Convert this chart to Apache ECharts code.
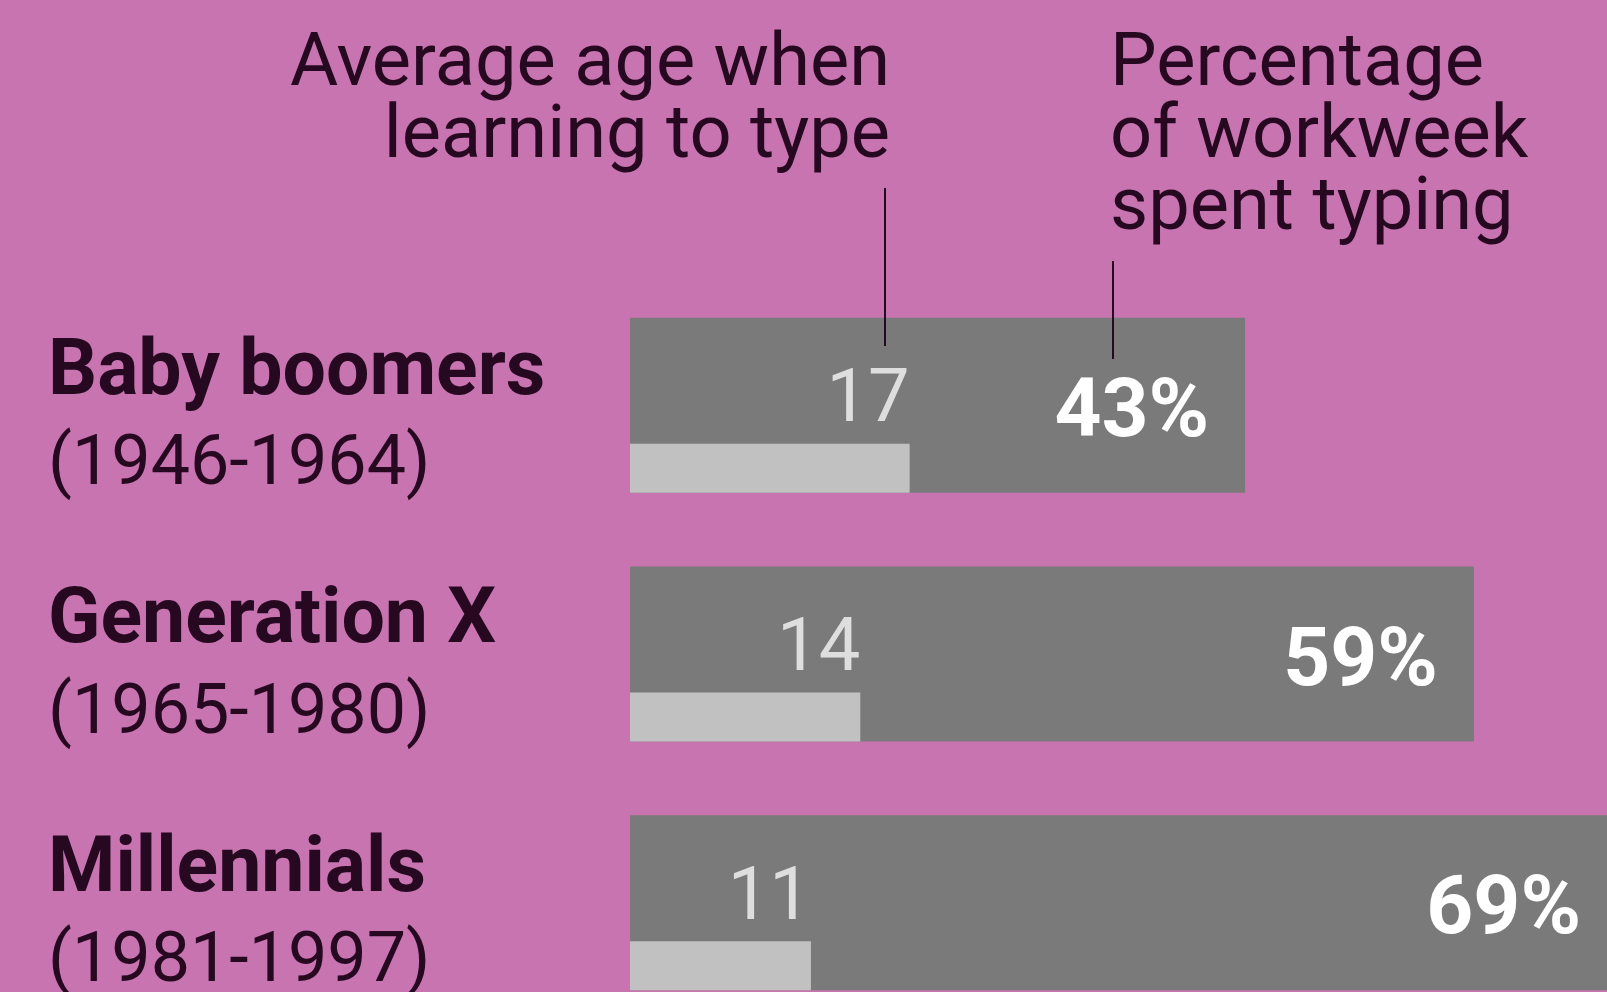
<!DOCTYPE html>
<html>
<head>
<meta charset="utf-8">
<script src="https://cdn.jsdelivr.net/npm/echarts@6/dist/echarts.min.js"></script>
<style>
  html, body { margin: 0; padding: 0; background: #c874b0; }
  #chart { width: 1607px; height: 992px; }
</style>
</head>
<body>
<div id="chart"></div>
<script>
// generations, top to bottom
const generations = ["Baby boomers", "Generation X", "Millennials"];
const birthYears = ["(1946-1964)", "(1965-1980)", "(1981-1997)"];
// share of the workweek spent typing (%)
const typingShare = [43, 59, 69];
// average age when learning to type
const learningAge = [17, 14, 11];

const FONT = "Roboto, 'DejaVu Sans', sans-serif";
const INK = "#260820";

const chart = echarts.init(document.getElementById("chart"));

const option = {
  backgroundColor: "#c874b0",
  animation: false,
  grid: { left: 630, right: -10, top: 281, height: 746, outerBoundsMode: "none" },
  xAxis: [
    { type: "value", min: 0, max: 69, show: false },
    { type: "value", min: 0, max: 60, show: false },
  ],
  yAxis: {
    type: "category",
    inverse: true,
    data: generations,
    axisLine: { show: false },
    axisTick: { show: false },
    splitLine: { show: false },
    axisLabel: {
      align: "left",
      margin: 582,
      padding: [30, 0, 0, 0],
      formatter: (val, i) => "{name|" + val + "}\n{years|" + birthYears[i] + "}",
      rich: {
        name: { fontFamily: FONT, fontWeight: "bold", fontSize: 77, color: INK, lineHeight: 92 },
        years: { fontFamily: FONT, fontWeight: "normal", fontSize: 70, color: INK, lineHeight: 92 },
      },
    },
  },
  series: [
    {
      // percentage of workweek, the wide dark bar
      type: "bar",
      xAxisIndex: 0,
      data: typingShare,
      barWidth: 175,
      barGap: "-28%",
      itemStyle: { color: "#7a7a7a" },
      label: {
        show: true,
        position: "insideRight",
        distance: 36,
        offset: [0, 10],
        formatter: "{c}%",
        fontFamily: FONT,
        fontWeight: "bold",
        fontSize: 82,
        color: "#ffffff",
      },
    },
    {
      // average age, the thin light bar along the bottom
      type: "bar",
      xAxisIndex: 1,
      data: learningAge,
      barWidth: 49,
      barGap: "-28%",
      itemStyle: { color: "#c0c1c0" },
      label: {
        show: true,
        position: ["100%", -41],
        align: "right",
        verticalAlign: "middle",
        fontFamily: FONT,
        fontSize: 74,
        color: "#dedede",
      },
    },
  ],
  graphic: [
    {
      type: "text",
      style: {
        text: "Average age when\nlearning to type",
        x: 890, y: 30,
        align: "right", verticalAlign: "top",
        fontFamily: FONT, fontSize: 74, lineHeight: 72,
        fill: INK,
      },
    },
    {
      type: "text",
      style: {
        text: "Percentage\nof workweek\nspent typing",
        x: 1110, y: 30,
        align: "left", verticalAlign: "top",
        fontFamily: FONT, fontSize: 74, lineHeight: 72,
        fill: INK,
      },
    },
    { type: "line", shape: { x1: 885, y1: 188, x2: 885, y2: 346 }, style: { stroke: INK, lineWidth: 2 }, z: 10 },
    { type: "line", shape: { x1: 1113, y1: 261, x2: 1113, y2: 359 }, style: { stroke: INK, lineWidth: 2 }, z: 10 },
  ],
};

chart.setOption(option);
</script>
</body>
</html>
